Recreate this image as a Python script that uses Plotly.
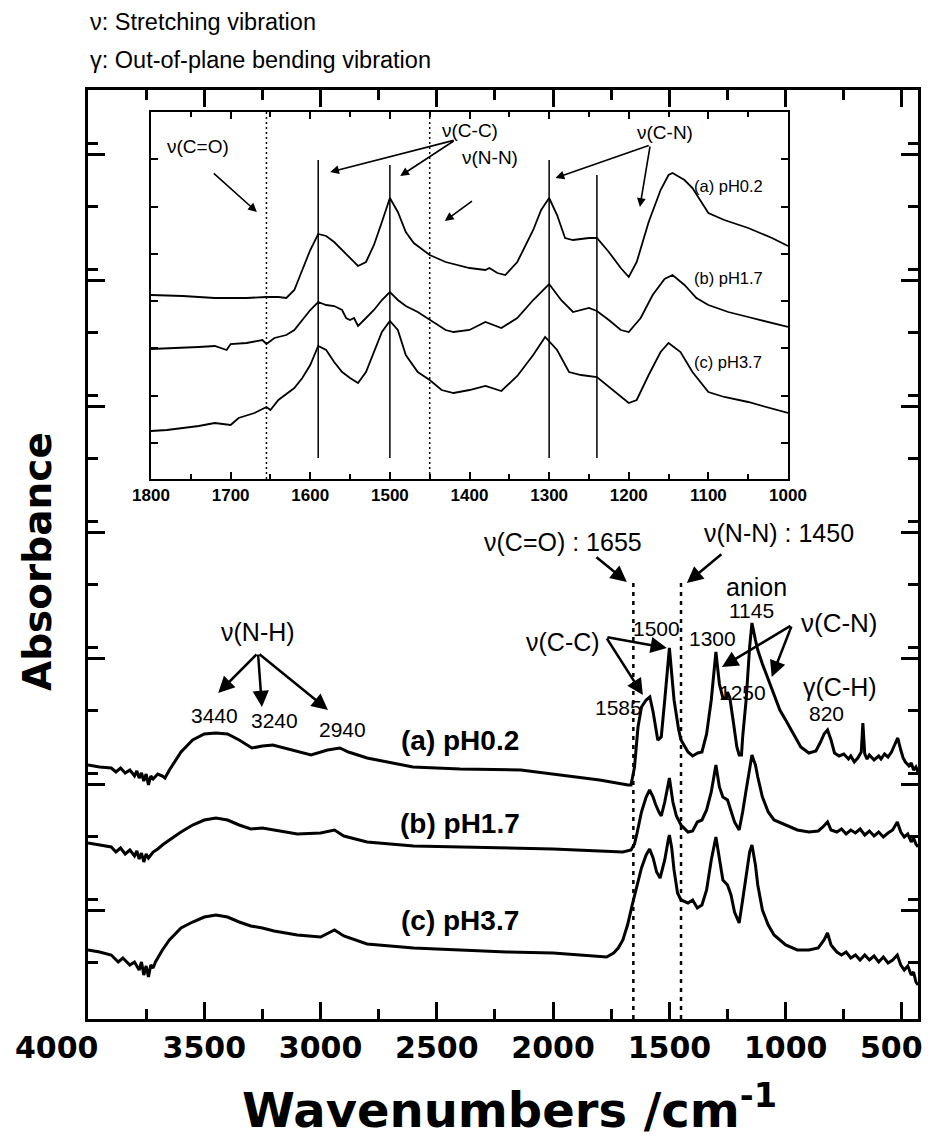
import plotly.graph_objects as go

# ---------------- main spectra (absorbance, offset, a.u.) ----------------
wn_a = [4000, 3950, 3900, 3880, 3860, 3840, 3820, 3800, 3790, 3780, 3770, 3760, 3750, 3740, 3730,
        3720, 3700, 3680, 3669, 3650, 3600, 3550, 3500, 3450, 3400, 3350, 3295, 3250, 3205, 3100,
        3041, 2970, 2917, 2880, 2800, 2603, 2400, 2139, 2000, 1800, 1678, 1665, 1650, 1635, 1620,
        1600, 1584, 1570, 1550, 1535, 1520, 1510, 1500, 1490, 1480, 1460, 1450, 1420, 1400, 1378,
        1360, 1340, 1320, 1300, 1285, 1270, 1255, 1250, 1240, 1225, 1210, 1200, 1190, 1185, 1170,
        1155, 1145, 1130, 1120, 1100, 1075, 1050, 1025, 1000, 970, 950, 935, 900, 870, 850, 835,
        820, 805, 790, 770, 750, 730, 720, 705, 690, 675, 668, 660, 650, 640, 620, 600, 590, 575,
        560, 545, 530, 518, 505, 495, 485, 470, 460, 450, 440, 431]
abs_a = [197, 195, 194, 190, 194, 189, 192, 186, 191, 184, 189, 181, 188, 177, 186,
         183, 188, 186, 184, 192, 210, 222, 228, 229, 228, 222, 214, 216, 217, 211,
         207, 212, 214, 210, 204, 195, 193, 192, 188, 182, 177, 177, 195, 235, 255,
         262, 265, 250, 222, 225, 262, 290, 314, 288, 262, 232, 222, 210, 206, 209,
         210, 228, 262, 310, 278, 264, 264, 270, 264, 240, 215, 207, 207, 225, 262,
         315, 339, 322, 312, 298, 282, 268, 252, 242, 230, 222, 215, 209, 211, 220, 228,
         232, 222, 209, 206, 208, 203, 206, 200, 204, 210, 239, 208, 203, 207, 202, 206, 203, 208,
         205, 210, 218, 224, 212, 204, 200, 196, 199, 192, 195, 190]

wn_b = [4000, 3950, 3900, 3880, 3860, 3840, 3820, 3800, 3790, 3780, 3770, 3760, 3750, 3740, 3720,
        3700, 3680, 3650, 3600, 3550, 3500, 3450, 3400, 3350, 3300, 3250, 3200, 3100, 3000, 2940,
        2900, 2800, 2600, 2400, 2200, 2000, 1800, 1700, 1665, 1650, 1640, 1620, 1600, 1585, 1570,
        1560, 1545, 1535, 1520, 1500, 1485, 1470, 1450, 1420, 1400, 1380, 1360, 1340, 1320, 1300,
        1285, 1270, 1250, 1235, 1220, 1200, 1185, 1170, 1155, 1145, 1130, 1120, 1100, 1075, 1050,
        1000, 950, 900, 860, 840, 820, 805, 780, 760, 740, 720, 700, 680, 660, 640, 620, 600, 580,
        560, 540, 520, 505, 490, 475, 460, 450, 440, 431]
abs_b = [119, 117, 115, 110, 114, 108, 112, 106, 111, 103, 109, 100, 108, 104, 110,
         113, 117, 122, 130, 137, 142, 144, 142, 137, 133, 134, 132, 128, 129, 132,
         126, 120, 116, 115, 114, 113, 111, 110, 112, 118, 128, 150, 165, 172, 165,
         158, 150, 146, 160, 184, 160, 146, 137, 130, 131, 140, 142, 152, 170, 197,
         175, 165, 162, 152, 140, 132, 150, 172, 195, 207, 197, 185, 165, 150, 142,
         137, 132, 130, 131, 135, 140, 132, 130, 133, 128, 132, 129, 133, 127, 131, 126, 130, 125,
         129, 132, 140, 130, 125, 128, 120, 124, 118, 115]

wn_c = [4000, 3950, 3900, 3870, 3850, 3820, 3800, 3780, 3770, 3760, 3750, 3740, 3730, 3720, 3710,
        3700, 3680, 3650, 3600, 3550, 3500, 3450, 3400, 3350, 3300, 3250, 3200, 3100, 3000, 2940,
        2900, 2800, 2600, 2400, 2200, 2000, 1800, 1770, 1740, 1720, 1700, 1680, 1660, 1640, 1620,
        1600, 1585, 1570, 1555, 1540, 1520, 1505, 1500, 1490, 1480, 1465, 1450, 1420, 1400, 1380,
        1360, 1340, 1320, 1300, 1285, 1270, 1250, 1235, 1220, 1200, 1185, 1170, 1155, 1145, 1130,
        1120, 1100, 1075, 1050, 1000, 950, 900, 860, 835, 820, 805, 780, 760, 740, 720, 700, 680,
        660, 640, 620, 600, 580, 560, 540, 520, 505, 490, 475, 460, 450, 440, 431]
abs_c = [12, 10, 7, 0, 4, -3, 0, -8, 0, -13, -4, -15, -3, -6, 0,
         4, 12, 22, 34, 40, 45, 47, 45, 40, 36, 34, 31, 27, 25, 32,
         26, 18, 14, 12, 10, 9, 6, 5, 9, 14, 22, 37, 57, 77, 94,
         107, 113, 104, 90, 84, 102, 122, 127, 114, 92, 69, 62, 59, 62, 54,
         57, 72, 102, 125, 102, 82, 77, 67, 50, 39, 62, 87, 110, 117, 97,
         77, 52, 37, 27, 17, 12, 12, 14, 22, 29, 17, 10, 7, 10, 4, 7, 2,
         7, 2, 6, 0, 5, -1, 2, 7, -3, -8, -4, -13, -10, -20, -23]

# ---------------- inset spectra, 1800-1000 cm-1 ----------------
wn_ia = [1800, 1760, 1720, 1680, 1655, 1640, 1630, 1620, 1610, 1600, 1590, 1580, 1570, 1560, 1550,
         1540, 1530, 1520, 1510, 1500, 1490, 1480, 1470, 1450, 1430, 1400, 1380, 1375, 1365, 1355,
         1340, 1320, 1310, 1300, 1290, 1280, 1270, 1250, 1240, 1225, 1210, 1200, 1190, 1175, 1160,
         1150, 1145, 1130, 1120, 1110, 1100, 1080, 1050, 1020, 1000]
ins_a = [184, 183, 181, 181, 182, 182, 181, 189, 209, 229, 245, 243, 237, 229, 221,
         213, 217, 234, 257, 281, 267, 247, 236, 224, 217, 211, 209, 211, 206, 204,
         217, 249, 269, 281, 264, 241, 239, 241, 241, 227, 211, 202, 217, 257, 289,
         304, 306, 299, 291, 279, 266, 259, 251, 241, 233]

wn_ib = [1800, 1760, 1740, 1720, 1705, 1700, 1680, 1660, 1655, 1645, 1630, 1620, 1610, 1600, 1590,
         1580, 1570, 1560, 1555, 1550, 1545, 1540, 1530, 1520, 1510, 1500, 1490, 1480, 1465, 1450,
         1430, 1420, 1400, 1380, 1360, 1340, 1320, 1300, 1285, 1270, 1250, 1240, 1225, 1210, 1200,
         1185, 1170, 1155, 1145, 1130, 1115, 1100, 1075, 1050, 1020, 1000]
ins_b = [130, 131, 132, 133, 129, 135, 136, 139, 135, 141, 144, 149, 159, 169, 177,
         174, 173, 169, 161, 159, 161, 153, 161, 169, 179, 187, 179, 173, 167, 159,
         149, 147, 149, 157, 151, 161, 179, 195, 179, 167, 171, 168, 159, 149, 147,
         161, 184, 200, 204, 194, 181, 174, 167, 162, 156, 152]

wn_ic = [1800, 1780, 1760, 1740, 1720, 1700, 1690, 1670, 1655, 1650, 1640, 1620, 1610, 1600, 1590,
         1580, 1570, 1560, 1550, 1540, 1530, 1520, 1510, 1500, 1490, 1480, 1465, 1450, 1435, 1420,
         1400, 1380, 1360, 1340, 1320, 1305, 1290, 1275, 1260, 1240, 1220, 1200, 1190, 1175, 1160,
         1150, 1135, 1120, 1100, 1080, 1050, 1000]
ins_c = [48, 49, 51, 53, 56, 54, 61, 66, 72, 69, 79, 91, 101, 114, 133,
         129, 117, 107, 101, 96, 107, 127, 147, 158, 149, 124, 107, 99, 89, 86,
         89, 93, 88, 103, 124, 142, 129, 107, 104, 102, 89, 76, 79, 104, 127,
         136, 127, 107, 87, 82, 77, 66]

# wavenumber tick labels of the main axis (the 500 label sits flush with the frame edge)
main_ticks = [4000, 3500, 3000, 2500, 2000, 1500, 1000, 500]
main_tick_text = ["4000" + "\u00a0" * 6, "3500", "3000", "2500", "2000", "1500", "1000", ""]
edge_tick_label = "500"

# band positions marked in both panels
dotted_bands = [1655, 1450]
solid_bands = [1590, 1500, 1300, 1240]
solid_tops = [319, 314, 319, 304]

FONT = "Liberation Sans"
HEAVY = "DejaVu Sans"
BLACK = "#000000"

# plot-area geometry (pixels)
W, H = 931, 1140
L, R, T, B = 88, 918, 90, 1019


def px(x):
    return (x - L) / (R - L)


def py(y):
    return (B - y) / (B - T)


fig = go.Figure()
for wn, ab in [(wn_a, abs_a), (wn_b, abs_b), (wn_c, abs_c)]:
    fig.add_trace(go.Scatter(x=wn, y=ab, mode="lines", xaxis="x", yaxis="y",
                             line=dict(color=BLACK, width=3), showlegend=False,
                             hoverinfo="skip"))
for wn, ab in [(wn_ia, ins_a), (wn_ib, ins_b), (wn_ic, ins_c)]:
    fig.add_trace(go.Scatter(x=wn, y=ab, mode="lines", xaxis="x2", yaxis="y2",
                             line=dict(color=BLACK, width=1.8), showlegend=False,
                             hoverinfo="skip"))

shapes = []
for b in dotted_bands:
    shapes.append(dict(type="line", xref="x", yref="y", x0=b, x1=b, y0=-57, y1=384,
                       line=dict(color=BLACK, width=2.5, dash="4px,5px")))
    shapes.append(dict(type="line", xref="x2", yref="y2", x0=b, x1=b, y0=0, y1=367,
                       line=dict(color=BLACK, width=1.5, dash="2px,3px")))
for b, top in zip(solid_bands, solid_tops):
    shapes.append(dict(type="line", xref="x2", yref="y2", x0=b, x1=b, y0=21, y1=top,
                       line=dict(color=BLACK, width=1.5)))

ann = []


def text(x, y, s, size, bold=False, xref="x", yref="y", xanchor="center", angle=0, family=FONT):
    ann.append(dict(x=x, y=y, xref=xref, yref=yref, text=s, showarrow=False,
                    xanchor=xanchor, yanchor="middle", textangle=angle,
                    font=dict(family=family, size=size, color=BLACK,
                              weight="bold" if bold else "normal")))


def arrow(x0, y0, x1, y1, width, xref="x", yref="y", size=1.3):
    ann.append(dict(x=x1, y=y1, ax=x0, ay=y0, xref=xref, yref=yref, axref=xref, ayref=yref,
                    text="", showarrow=True, arrowhead=2, arrowsize=size,
                    arrowwidth=width, arrowcolor=BLACK))


# header lines
text(0, py(22), "ν: Stretching vibration", 23.5, xref="paper", yref="paper", xanchor="left")
text(0, py(60), "γ: Out-of-plane bending vibration", 23.5, xref="paper", yref="paper",
     xanchor="left")

# axis titles and the right-most wavenumber label
text(px(509), py(1107), "Wavenumbers /cm<sup>-1</sup>", 48, bold=True, xref="paper",
     yref="paper", family=HEAVY)
text(px(37), py(562), "Absorbance", 39, bold=True, xref="paper", yref="paper", angle=-90,
     family=HEAVY)
text(px(925), py(1047), edge_tick_label, 30, bold=True, xref="paper", yref="paper",
     xanchor="right", family=HEAVY)

# main panel labels
text(3270, 330, "ν(N-H)", 25)
for hx, hy in [(3440, 269), (3252, 255), (2968, 252)]:
    arrow(3269, 309, hx, hy, 2.5)
text(3454, 247, "3440", 21)
text(3196, 242, "3240", 21)
text(2904, 233, "2940", 21)
text(2401, 222, "(a) pH0.2", 28, bold=True)
text(2401, 139, "(b) pH1.7", 28, bold=True)
text(2401, 42, "(c) pH3.7", 28, bold=True)

text(1958, 420, "ν(C=O) : 1655", 25)
arrow(1820, 406, 1683, 380, 2.5)
text(1029, 429, "ν(N-N) : 1450", 25)
arrow(1270, 409, 1425, 379, 2.5)
text(1958, 320, "ν(C-C)", 25)
arrow(1773, 325, 1511, 314, 2.5)
arrow(1773, 325, 1614, 267, 2.5)
text(1554, 334, "1500", 21)
text(1721, 255, "1585", 21)
text(1313, 324, "1300", 21)
text(1184, 270, "1250", 21)
text(1124, 375, "anion", 25)
text(1145, 352, "1145", 21)
text(767, 339, "ν(C-N)", 26)
arrow(973, 337, 1274, 295, 2.5)
arrow(973, 337, 1060, 285, 2.5)
text(767, 275, "γ(C-H)", 25)
text(823, 249, "820", 21)

# inset labels
text(1741, 333, "ν(C=O)", 19, xref="x2", yref="y2")
arrow(1723, 307, 1667, 267, 1.6, xref="x2", yref="y2", size=1.1)
text(1399, 349, "ν(C-C)", 19, xref="x2", yref="y2")
arrow(1418, 339, 1575, 307, 1.6, xref="x2", yref="y2", size=1.1)
arrow(1418, 339, 1487, 303, 1.6, xref="x2", yref="y2", size=1.1)
text(1374, 322, "ν(N-N)", 19, xref="x2", yref="y2")
arrow(1395, 279, 1431, 258, 1.6, xref="x2", yref="y2", size=1.1)
text(1154, 347, "ν(C-N)", 19, xref="x2", yref="y2")
arrow(1173, 334, 1292, 301, 1.6, xref="x2", yref="y2", size=1.1)
arrow(1173, 334, 1186, 272, 1.6, xref="x2", yref="y2", size=1.1)
text(1075, 293, "(a) pH0.2", 16.5, xref="x2", yref="y2")
text(1075, 201, "(b) pH1.7", 16.5, xref="x2", yref="y2")
text(1075, 117, "(c) pH3.7", 16.5, xref="x2", yref="y2")

fig.update_layout(
    width=W, height=H,
    margin=dict(l=L, r=W - R, t=T, b=H - B),
    paper_bgcolor="white", plot_bgcolor="white",
    shapes=shapes, annotations=ann,
    xaxis=dict(range=[4000, 431], showline=True, linewidth=3, linecolor=BLACK, mirror="ticks",
               ticks="inside", ticklen=17, tickwidth=3, tickcolor=BLACK, automargin=False,
               tickmode="array", tickvals=main_ticks, ticktext=main_tick_text, tickangle=0,
               ticklabeloverflow="allow", showgrid=False, zeroline=False,
               minor=dict(ticks="inside", ticklen=10, tickwidth=3, tickcolor=BLACK,
                          tickmode="linear", tick0=0, dtick=250),
               tickfont=dict(family=HEAVY, size=30, color=BLACK, weight="bold")),
    yaxis=dict(range=[-57, 872], showline=True, linewidth=3, linecolor=BLACK, mirror="ticks",
               ticks="inside", ticklen=17, tickwidth=3, tickcolor=BLACK, automargin=False,
               tick0=52, dtick=126, showticklabels=False, showgrid=False, zeroline=False,
               minor=dict(ticks="inside", ticklen=10, tickwidth=3, tickcolor=BLACK, dtick=63)),
    xaxis2=dict(domain=[px(151), px(788)], anchor="y2", range=[1800, 1000], automargin=False,
                showline=True, linewidth=1.6, linecolor=BLACK, mirror="ticks",
                ticks="inside", ticklen=7, tickwidth=1.6, tickcolor=BLACK,
                tick0=0, dtick=100, showgrid=False, zeroline=False,
                minor=dict(ticks="inside", ticklen=5, tickwidth=1.6, tickcolor=BLACK, dtick=50),
                tickfont=dict(family=FONT, size=17, color=BLACK, weight="bold")),
    yaxis2=dict(domain=[py(479), py(112)], anchor="x2", range=[0, 367], automargin=False,
                showline=True, linewidth=1.6, linecolor=BLACK, mirror="ticks",
                ticks="inside", ticklen=7, tickwidth=1.6, tickcolor=BLACK,
                tick0=36, dtick=47.3, showticklabels=False, showgrid=False, zeroline=False),
)

fig.write_html("out.html")
